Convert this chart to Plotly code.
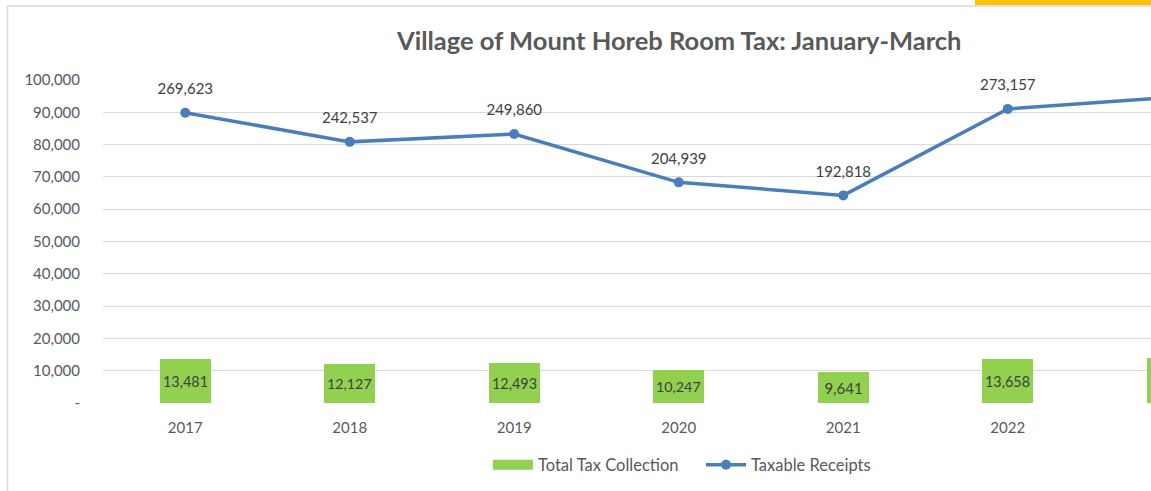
import plotly.graph_objects as go

years = ["2017", "2018", "2019", "2020", "2021", "2022", "2023"]
total_tax = [13481, 12127, 12493, 10247, 9641, 13658, 13900]
receipts = [269623, 242537, 249860, 204939, 192818, 273157, 284000]
ytick_vals = [0, 10000, 20000, 30000, 40000, 50000, 60000, 70000, 80000, 90000, 100000]
ytick_text = ["-", "10,000", "20,000", "30,000", "40,000", "50,000", "60,000",
              "70,000", "80,000", "90,000", "100,000"]

FONT = "Lato"
GREEN = "#92D050"
BLUE = "#4A7EBB"

xs = list(range(len(years)))

fig = go.Figure()
fig.add_trace(go.Bar(
    x=xs, y=total_tax, name="Total Tax Collection", showlegend=False,
    marker=dict(color=GREEN, line=dict(width=0)), width=0.31,
    text=[f"{v:,}" for v in total_tax], textposition="inside",
    insidetextanchor="middle", textangle=0,
    textfont=dict(family=FONT, size=15, color="#404040"),
    cliponaxis=True,
))
# legend entry for the bars (wide green patch, as in the reference)
fig.add_trace(go.Scatter(
    x=[None], y=[None], name="Total Tax Collection", mode="lines",
    line=dict(color=GREEN, width=12), showlegend=True,
))
fig.add_trace(go.Scatter(
    x=xs, y=receipts, name="Taxable Receipts", yaxis="y2",
    mode="lines+markers",
    line=dict(color=BLUE, width=3.5),
    marker=dict(color=BLUE, size=10),
    cliponaxis=True,
))
# data labels above the line points
fig.add_trace(go.Scatter(
    x=xs, y=receipts, yaxis="y2", mode="markers+text", showlegend=False,
    marker=dict(size=22, color="rgba(0,0,0,0)"),
    text=[f"{v:,}" for v in receipts], textposition="top center",
    textfont=dict(family=FONT, size=15, color="#404040"),
    cliponaxis=False, hoverinfo="skip",
))

L, W = 103, 1048
T, B = 80, 403
H = B - T

def px(x):
    return (x - L) / W

def py(y):
    return (B - y) / H

fig.add_annotation(xref="paper", yref="paper", x=px(679), y=py(40),
                   text="<b>Village of Mount Horeb Room Tax: January-March</b>",
                   showarrow=False, xanchor="center", yanchor="middle",
                   font=dict(family=FONT, size=25.5, color="#595959"))

# chart border (left and top) and yellow cell
fig.add_shape(type="line", xref="paper", yref="paper", x0=px(7.5), x1=px(7.5),
              y0=py(6), y1=py(500), line=dict(color="#d9d9d9", width=1.5), layer="below")
fig.add_shape(type="line", xref="paper", yref="paper", x0=px(7.5), x1=px(1160),
              y0=py(6), y1=py(6), line=dict(color="#d9d9d9", width=1.5), layer="below")
fig.add_shape(type="rect", xref="paper", yref="paper", x0=px(975), x1=px(1160),
              y0=py(5), y1=py(-10), line=dict(width=0), fillcolor="#FFC000", layer="above")

fig.update_layout(
    width=1151, height=491,
    margin=dict(l=L, r=1151 - L - W, t=T, b=491 - B, pad=0, autoexpand=False),
    paper_bgcolor="white", plot_bgcolor="white",
    font=dict(family=FONT, size=15, color="#595959"),
    showlegend=True,
    legend=dict(orientation="h", x=px(488), xanchor="left", y=py(465), yanchor="middle",
                font=dict(family=FONT, size=16.5, color="#595959"),
                bgcolor="rgba(0,0,0,0)", itemwidth=40, tracegroupgap=0,
                entrywidth=158, entrywidthmode="pixels",
                traceorder="normal"),
    xaxis=dict(range=[-0.5, -0.5 + W / 164.5], tickvals=xs, ticktext=years,
               showgrid=False, zeroline=False, showline=False, ticks="",
               ticklabelstandoff=14,
               tickfont=dict(family=FONT, size=15, color="#595959"), fixedrange=True),
    yaxis=dict(range=[0, 100000], tickvals=ytick_vals, ticktext=ytick_text,
               showgrid=True, gridcolor="#d9d9d9", gridwidth=1, zeroline=False,
               showline=False, ticks="", ticklabelstandoff=22,
               tickfont=dict(family=FONT, size=15, color="#595959")),
    yaxis2=dict(range=[0, 300000], overlaying="y", side="right", visible=False,
                showgrid=False, zeroline=False),
    bargap=0,
)

fig.write_html("out.html", config={"displayModeBar": False},
               post_script="document.body.style.margin='0';document.body.style.overflow='hidden';")
